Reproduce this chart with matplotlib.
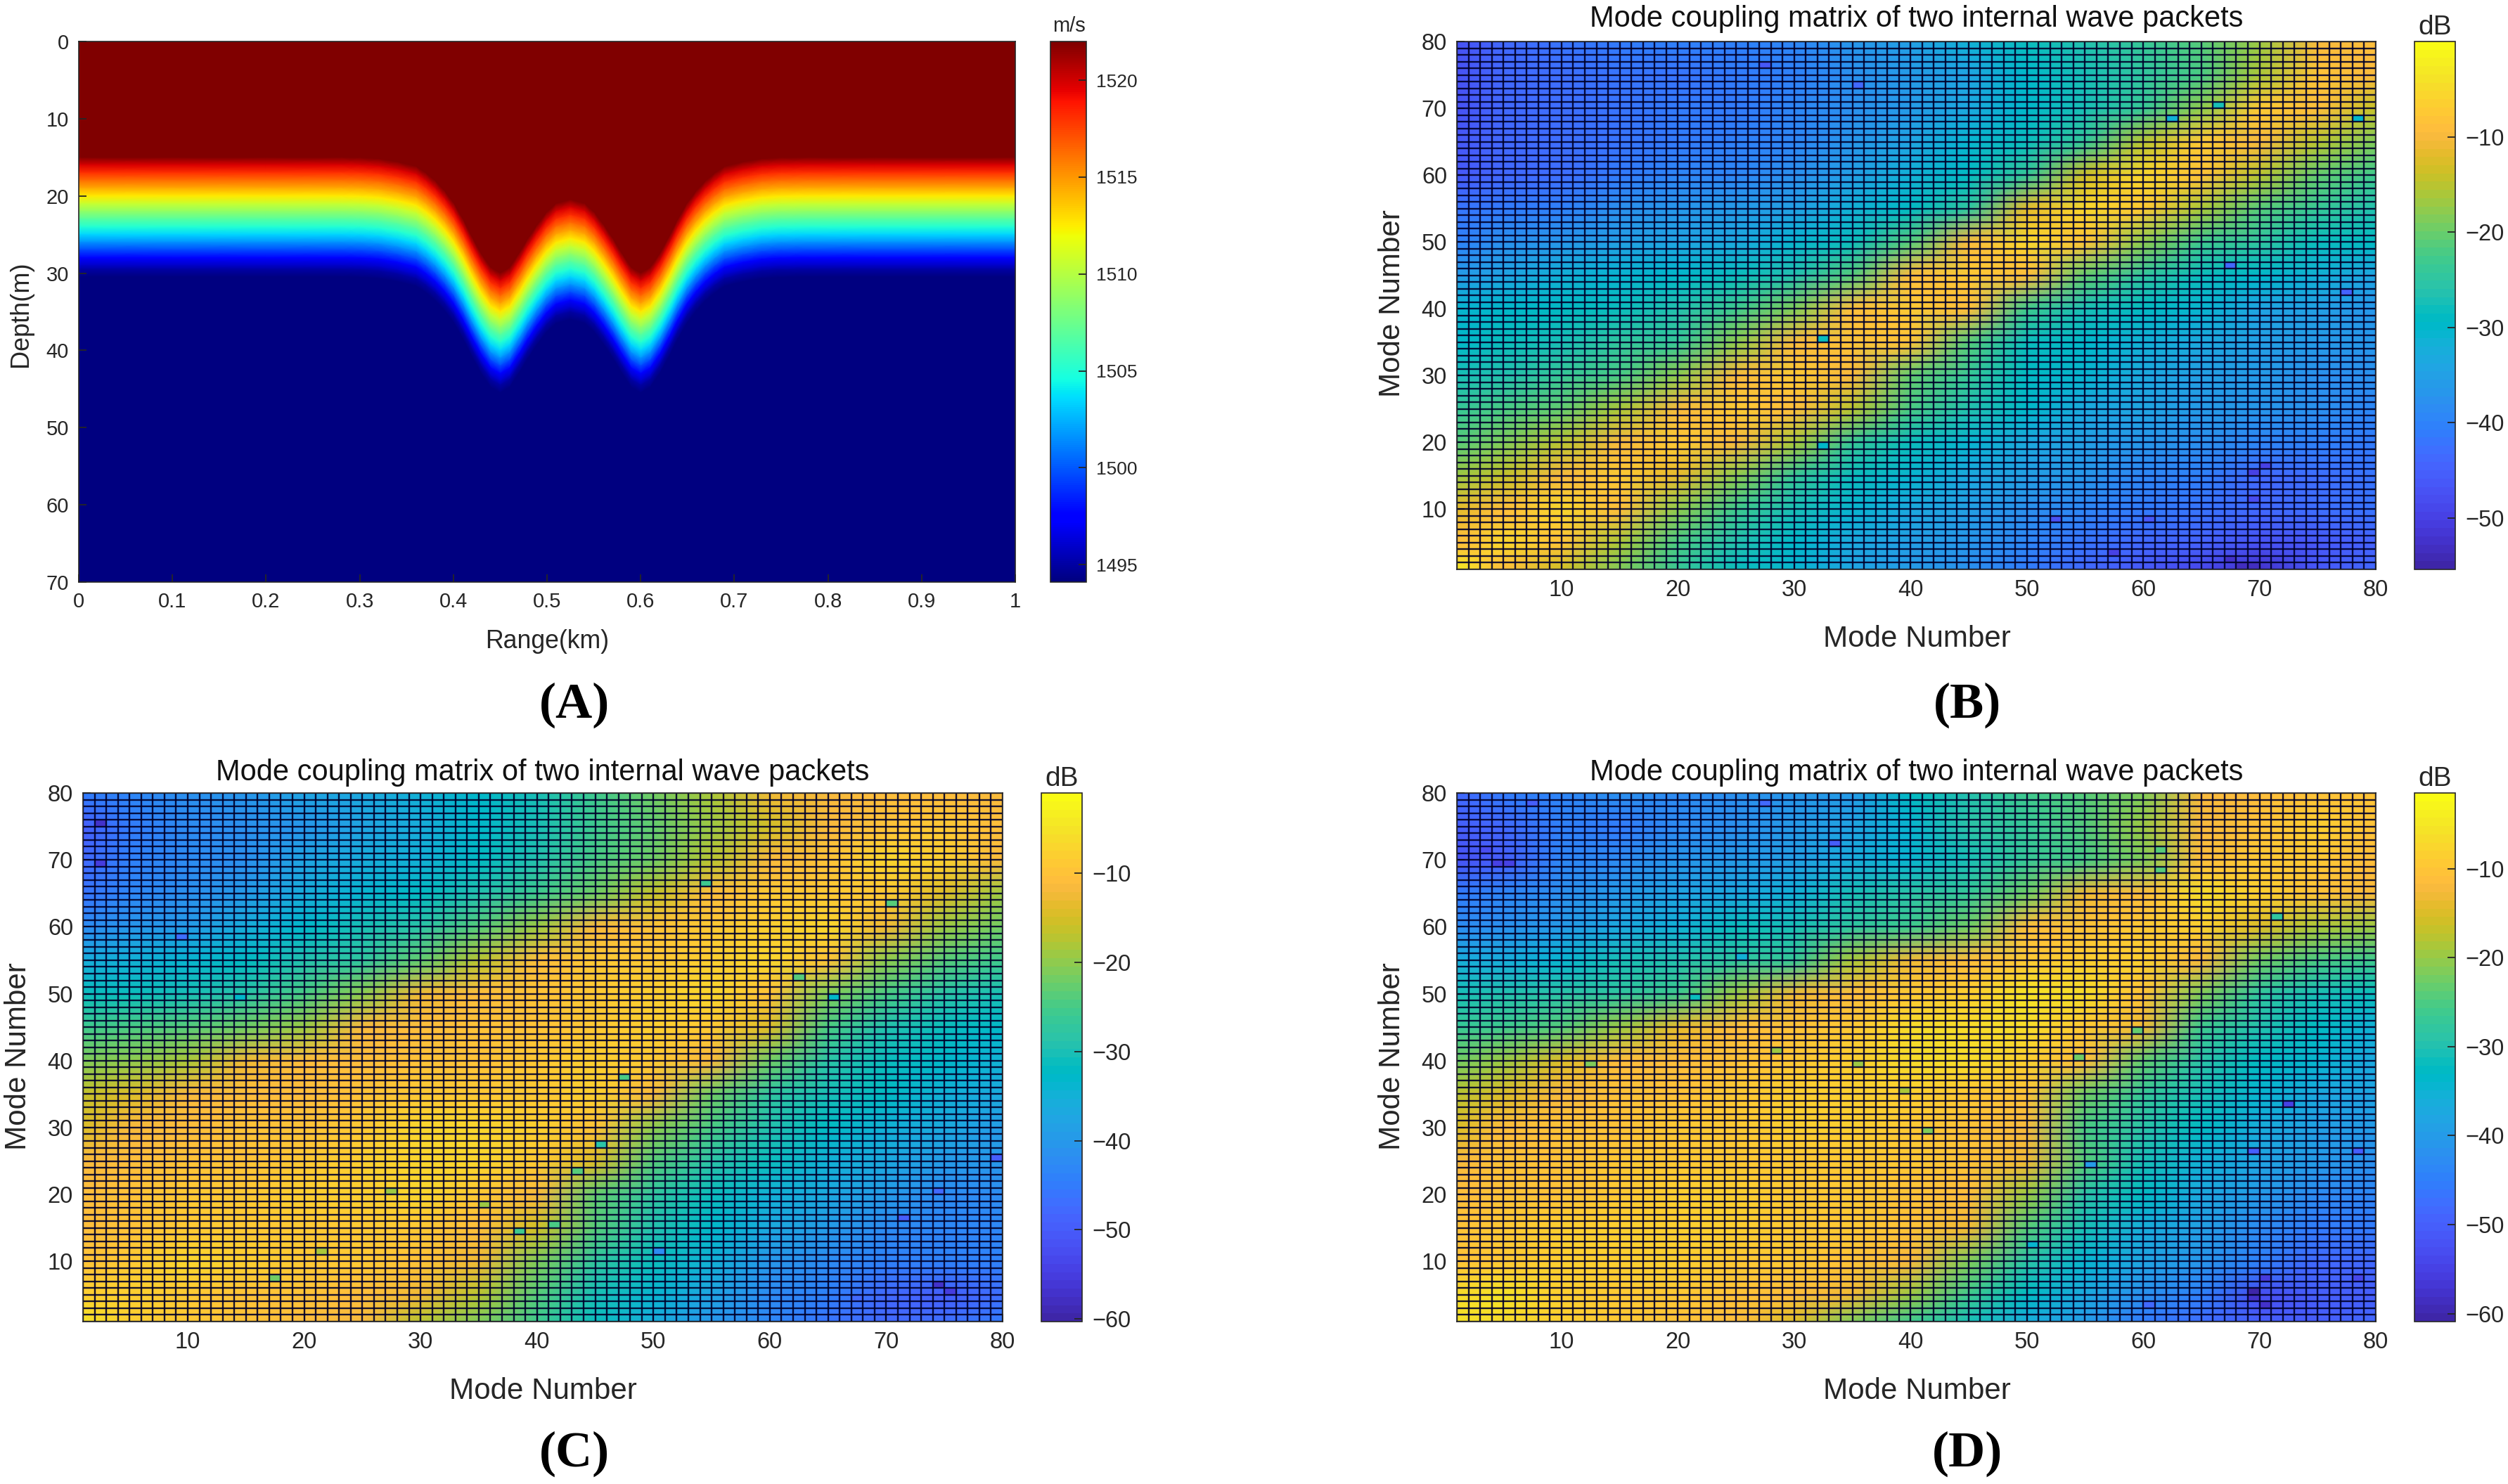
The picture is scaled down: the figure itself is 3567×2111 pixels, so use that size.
import numpy as np
import matplotlib
matplotlib.use("Agg")
import matplotlib.pyplot as plt
from matplotlib.colors import ListedColormap

W, H = 3567, 2111
plt.rcParams['font.family'] = ['Liberation Sans', 'DejaVu Sans']

PARULA = [
 (0.2422,0.1504,0.6603),(0.2504,0.1650,0.7076),(0.2578,0.1818,0.7511),(0.2647,0.1978,0.7952),
 (0.2706,0.2147,0.8364),(0.2751,0.2342,0.8710),(0.2783,0.2559,0.8991),(0.2803,0.2782,0.9221),
 (0.2813,0.3006,0.9414),(0.2810,0.3228,0.9579),(0.2795,0.3447,0.9717),(0.2760,0.3667,0.9829),
 (0.2699,0.3892,0.9906),(0.2602,0.4123,0.9952),(0.2440,0.4358,0.9988),(0.2206,0.4603,0.9973),
 (0.1963,0.4847,0.9892),(0.1834,0.5074,0.9798),(0.1786,0.5289,0.9682),(0.1764,0.5499,0.9520),
 (0.1687,0.5703,0.9359),(0.1540,0.5902,0.9218),(0.1460,0.6091,0.9079),(0.1380,0.6276,0.8973),
 (0.1248,0.6459,0.8883),(0.1113,0.6635,0.8763),(0.0952,0.6798,0.8598),(0.0689,0.6948,0.8394),
 (0.0297,0.7082,0.8163),(0.0036,0.7203,0.7917),(0.0067,0.7312,0.7660),(0.0433,0.7411,0.7394),
 (0.0964,0.7500,0.7120),(0.1408,0.7584,0.6842),(0.1717,0.7670,0.6554),(0.1938,0.7758,0.6251),
 (0.2161,0.7843,0.5923),(0.2470,0.7918,0.5567),(0.2906,0.7973,0.5188),(0.3406,0.8008,0.4789),
 (0.3909,0.8029,0.4354),(0.4456,0.8024,0.3909),(0.5044,0.7993,0.3480),(0.5616,0.7942,0.3045),
 (0.6174,0.7876,0.2612),(0.6720,0.7793,0.2227),(0.7242,0.7698,0.1910),(0.7738,0.7598,0.1646),
 (0.8203,0.7498,0.1535),(0.8634,0.7406,0.1596),(0.9035,0.7330,0.1774),(0.9393,0.7288,0.2100),
 (0.9728,0.7298,0.2394),(0.9956,0.7434,0.2371),(0.9970,0.7659,0.2199),(0.9952,0.7893,0.2028),
 (0.9892,0.8136,0.1885),(0.9786,0.8386,0.1766),(0.9676,0.8639,0.1643),(0.9610,0.8890,0.1537),
 (0.9597,0.9135,0.1423),(0.9628,0.9373,0.1265),(0.9691,0.9606,0.1064),(0.9769,0.9839,0.0805)]
parula = ListedColormap(PARULA, name='parula')

# ---------- Panel A data ----------
range_km = [0,.1,.2,.28,.30,.32,.34,.36,.37,.38,.39,.40,.41,.42,.43,.44,.45,.46,.47,.48,.49,.50,.51,.525,
            .54,.55,.56,.57,.58,.59,.60,.61,.62,.63,.64,.65,.66,.67,.68,.69,.71,.73,.75,.78,.85,1]
displacement_m = [0,0,0,0,.05,.2,.6,1.2,2.0,3.0,4.3,5.9,8.0,10.4,12.6,14.3,15.0,14.3,12.5,10.5,8.7,7.1,6.0,5.5,
                  6.0,7.1,8.7,10.5,12.5,14.3,15.0,14.3,12.6,10.4,8.0,5.9,4.3,3.0,2.0,1.2,.6,.2,.05,0,0,0]
base_depth_m = [-30,15,16,17,18,19,20,21,22,23,24,25,26,27,28,29,29.5,30.5,90]
sound_speed = [1522,1522,1519.8,1518.0,1516.2,1514.4,1512.6,1510.6,1508.8,1506.8,1505.0,1503.4,1501.6,
               1499.6,1497.6,1495.9,1495.0,1494.1,1494.1]

# ---------- Panels B, C, D data (dB, read on a 5-mode lattice) ----------
lattice_x = [1,5,10,15,20,25,30,35,40,45,50,55,60,65,70,75,80]
lattice_y = [80,75,70,65,60,55,50,45,40,35,30,25,20,15,10,5,1]
matrix_b = [
 [-47,-44,-42,-41,-40,-40,-39,-37,-35,-32,-28,-26,-24,-21,-17,-10,-9],
 [-47,-44,-43,-42,-42,-41,-40,-38,-36,-34,-30,-27,-25,-22,-16,-8,-10],
 [-47,-44,-43,-42,-41,-41,-39,-38,-36,-33,-30,-27,-24,-18,-7,-9,-14],
 [-46,-44,-43,-42,-41,-40,-39,-37,-34,-31,-28,-24,-15,-7,-10,-15,-19],
 [-46,-44,-43,-41,-39,-39,-38,-35,-32,-29,-24,-13,-6,-8,-15,-20,-23],
 [-42,-41,-40,-38,-37,-36,-35,-32,-29,-25,-12,-6,-7,-16,-21,-24,-26],
 [-40,-38,-37,-35,-34,-33,-31,-28,-21,-10,-6,-8,-18,-23,-25,-28,-29],
 [-36,-34,-32,-31,-30,-28,-26,-21,-9,-7,-9,-20,-25,-28,-30,-32,-34],
 [-31,-30,-29,-28,-26,-23,-19,-9,-7,-9,-23,-27,-29,-31,-34,-35,-37],
 [-30,-28,-27,-25,-24,-18,-10,-8,-8,-21,-28,-30,-32,-33,-35,-36,-37],
 [-27,-26,-24,-22,-18,-10,-7,-10,-20,-24,-29,-31,-33,-35,-36,-38,-38],
 [-24,-22,-20,-16,-10,-7,-9,-15,-22,-26,-30,-33,-34,-36,-37,-38,-39],
 [-21,-19,-15,-10,-7,-10,-16,-24,-28,-31,-33,-35,-37,-38,-39,-40,-41],
 [-17,-14,-10,-7,-12,-18,-24,-28,-31,-33,-35,-37,-39,-40,-44,-43,-42],
 [-12,-9,-6,-9,-18,-23,-27,-31,-33,-35,-38,-39,-41,-42,-44,-43,-42],
 [-9,-6,-8,-16,-22,-26,-30,-33,-35,-37,-39,-42,-44,-45,-47,-46,-45],
 [-3,-9,-13,-19,-24,-28,-31,-34,-36,-38,-41,-44,-46,-49,-52,-46,-44]]
matrix_c = [
 [-45,-43,-41,-40,-38,-37,-35,-33,-30,-26,-22,-18,-13,-12,-11,-11,-12],
 [-50,-45,-42,-41,-40,-38,-36,-33,-30,-26,-23,-19,-15,-12,-10,-9,-11],
 [-48,-44,-42,-41,-38,-36,-35,-32,-29,-25,-22,-17,-12,-10,-7,-8,-12],
 [-46,-43,-41,-39,-36,-34,-32,-29,-26,-22,-16,-11,-9,-9,-9,-14,-19],
 [-42,-40,-39,-36,-33,-30,-28,-24,-19,-12,-10,-9,-8,-7,-13,-19,-22],
 [-36,-35,-34,-32,-29,-27,-23,-17,-11,-9,-9,-8,-7,-10,-20,-24,-26],
 [-31,-31,-30,-28,-25,-20,-13,-11,-10,-9,-8,-7,-10,-21,-25,-28,-30],
 [-26,-25,-24,-22,-19,-12,-11,-10,-10,-9,-8,-9,-14,-25,-29,-31,-33],
 [-21,-20,-18,-13,-11,-11,-10,-10,-9,-8,-9,-12,-22,-28,-31,-33,-35],
 [-16,-14,-12,-11,-11,-10,-9,-9,-9,-8,-12,-22,-27,-30,-32,-35,-37],
 [-14,-12,-11,-10,-10,-9,-7,-7,-8,-10,-20,-25,-29,-32,-35,-37,-39],
 [-12,-11,-10,-10,-9,-8,-7,-7,-9,-14,-24,-28,-31,-35,-37,-39,-40],
 [-11,-10,-9,-9,-8,-8,-7,-9,-12,-23,-27,-31,-35,-37,-39,-42,-42],
 [-11,-10,-9,-9,-9,-9,-9,-11,-15,-24,-29,-33,-37,-39,-42,-43,-43],
 [-10,-9,-7,-8,-9,-9,-10,-13,-21,-27,-31,-35,-40,-42,-44,-44,-44],
 [-8,-8,-9,-10,-10,-11,-13,-17,-24,-30,-34,-38,-42,-44,-48,-50,-47],
 [-5,-8,-9,-10,-11,-12,-17,-21,-26,-31,-36,-40,-43,-46,-48,-47,-45]]
matrix_d = [
 [-48,-46,-44,-42,-43,-42,-41,-40,-33,-30,-26,-24,-21,-12,-11,-10,-10],
 [-50,-48,-45,-46,-43,-42,-40,-38,-34,-29,-27,-24,-20,-12,-10,-8,-10],
 [-52,-50,-44,-43,-41,-40,-39,-36,-34,-31,-27,-25,-21,-11,-9,-9,-11],
 [-46,-44,-42,-40,-38,-37,-35,-31,-29,-27,-22,-13,-11,-7,-8,-10,-12],
 [-43,-42,-40,-37,-35,-32,-31,-28,-26,-22,-11,-10,-9,-8,-15,-19,-20],
 [-36,-36,-34,-31,-30,-28,-27,-19,-13,-11,-9,-8,-8,-12,-22,-25,-26],
 [-31,-30,-29,-28,-26,-20,-13,-11,-9,-8,-6,-7,-10,-21,-28,-31,-32],
 [-27,-26,-24,-20,-14,-11,-10,-9,-7,-7,-7,-9,-13,-26,-30,-33,-35],
 [-22,-20,-15,-11,-11,-10,-9,-8,-7,-7,-8,-11,-23,-29,-33,-34,-37],
 [-18,-15,-12,-10,-10,-9,-8,-8,-8,-9,-10,-22,-27,-31,-34,-37,-38],
 [-15,-11,-10,-10,-9,-9,-8,-8,-9,-10,-12,-25,-29,-33,-36,-39,-40],
 [-12,-10,-10,-9,-9,-9,-9,-9,-9,-10,-13,-24,-31,-35,-38,-40,-42],
 [-11,-10,-10,-9,-8,-8,-9,-9,-10,-11,-20,-29,-33,-37,-40,-43,-44],
 [-10,-9,-8,-8,-8,-8,-9,-9,-10,-13,-24,-31,-36,-39,-43,-46,-46],
 [-10,-9,-8,-8,-8,-9,-9,-10,-12,-21,-29,-34,-38,-41,-45,-48,-48],
 [-7,-6,-8,-9,-9,-10,-11,-13,-20,-26,-33,-37,-42,-45,-53,-50,-50],
 [-6,-7,-8,-9,-10,-11,-15,-21,-26,-31,-36,-40,-46,-47,-50,-50,-48]]

# isolated cells that stand out from their surroundings: (mode x, mode y, dB)
cells_b = [(62,68,-32),(66,70,-27),(78,68,-30),(32,35,-28),(32,19,-30),(67,2,-52),(68,1,-53),(69,1,-53),(57,3,-50),
           (52,8,-47),(60,8,-46),(69,15,-50),(70,16,-50),(69,11,-48),(27,76,-46),(35,73,-44),(77,42,-45),(67,46,-44)]
cells_c = [(2,75,-57),(2,69,-55),(17,7,-22),(74,6,-57),(75,5,-55),(54,66,-26),(70,63,-24),(62,52,-24),(65,49,-33),
           (79,25,-50),(43,23,-24),(45,27,-28),(50,11,-42),(14,49,-33),(41,15,-25),(38,14,-26),(27,20,-19),
           (35,18,-19),(9,58,-47),(21,11,-18),(47,37,-25),(67,4,-48),(71,16,-50),(74,20,-48)]
cells_d = [(4,69,-55),(5,69,-55),(3,71,-53),(33,72,-50),(7,78,-50),(27,78,-48),(72,33,-55),(69,5,-60),(69,4,-58),
           (70,7,-56),(70,3,-58),(78,7,-54),(71,61,-28),(61,71,-24),(61,68,-24),(25,55,-35),(28,41,-20),(35,39,-20),
           (39,35,-19),(41,29,-21),(54,40,-22),(59,44,-23),(55,24,-40),(69,26,-50),(78,26,-50),(60,3,-48),
           (50,12,-34),(21,49,-32),(12,39,-21)]

mode_ticks = [10,20,30,40,50,60,70,80]
range_ticks = [0,.1,.2,.3,.4,.5,.6,.7,.8,.9,1]
range_tick_labels = ['0','0.1','0.2','0.3','0.4','0.5','0.6','0.7','0.8','0.9','1']
depth_ticks = [0,10,20,30,40,50,60,70]
speed_ticks = [1495,1500,1505,1510,1515,1520]
db_ticks_b = [-50,-40,-30,-20,-10]
db_ticks_cd = [-60,-50,-40,-30,-20,-10]

TITLE = 'Mode coupling matrix of two internal wave packets'
TEXTC = '#262626'

fig = plt.figure(figsize=(W/100, H/100), dpi=100, facecolor='white')

def axpx(x0, y0, x1, y1):
    return fig.add_axes([x0/W, 1-y1/H, (x1-x0)/W, (y1-y0)/H])

def txt(x, y, s, **kw):
    fig.text(x/W, 1-y/H, s, ha=kw.pop('ha','center'), va=kw.pop('va','center'), **kw)

def style_cbar(cb, ticks, fs):
    cb.set_ticks(ticks)
    cb.ax.tick_params(direction='in', length=8, width=1.3, labelsize=fs, pad=10, color='#262626', labelcolor=TEXTC)
    cb.ax.minorticks_off()
    cb.outline.set_linewidth(1.2)
    cb.outline.set_edgecolor('#262626')

def style_ax(ax, fs):
    ax.tick_params(direction='in', length=8, width=1.3, labelsize=fs, pad=10, color='#262626',
                   labelcolor=TEXTC, top=False, right=False)
    for s in ax.spines.values():
        s.set_linewidth(1.2)
        s.set_edgecolor('#262626')

# Panel A
axA = axpx(112, 59, 1444, 828)
r = np.array(range_km); d = np.array(displacement_m); z = np.array(base_depth_m)
X = np.repeat(r[None, :], len(z), axis=0)
Z = z[:, None] + d[None, :]
C = np.repeat(np.array(sound_speed)[:, None], len(r), axis=1)
mA = axA.pcolormesh(X, Z, C, shading='gouraud', cmap='jet', vmin=1494.1, vmax=1522.0)
axA.set_xlim(0, 1); axA.set_ylim(70, 0)
axA.set_xticks(range_ticks, range_tick_labels); axA.set_yticks(depth_ticks)
style_ax(axA, 21)
caxA = axpx(1494, 59, 1545, 828)
cbA = fig.colorbar(mA, cax=caxA)
style_cbar(cbA, speed_ticks, 19)
txt(778, 913, 'Range(km)', fontsize=25.7, color=TEXTC)
txt(30, 447, 'Depth(m)', fontsize=26, color=TEXTC, rotation=90)
txt(1520, 37, 'm/s', fontsize=21, color=TEXTC)

# Panels B, C, D
def matrix_panel(box, cbox, data, cells, vmin, vmax, dbticks, titlex, xl, yl, yt, ylx, dby, dbx):
    ax = axpx(*box)
    xx, yy = np.meshgrid(lattice_x, lattice_y)
    m = ax.pcolormesh(xx, yy, np.array(data, float), shading='gouraud', cmap=parula, vmin=vmin, vmax=vmax)
    modes = np.arange(1, 81)
    single = np.ma.masked_all((79, 79))
    for cx, cy, v in cells:
        single[cy-1, cx-1] = v
    ax.pcolormesh(modes, modes, single, shading='flat', cmap=parula, vmin=vmin, vmax=vmax)
    ax.vlines(modes, 1, 80, colors='#00002a', linewidth=1.7, alpha=.9)
    ax.hlines(modes, 1, 80, colors='#00002a', linewidth=1.7, alpha=.9)
    ax.set_xlim(1, 80); ax.set_ylim(1, 80)
    ax.set_xticks(mode_ticks); ax.set_yticks(mode_ticks)
    style_ax(ax, 23.5)
    cax = axpx(*cbox)
    cb = fig.colorbar(m, cax=cax)
    style_cbar(cb, dbticks, 23.5)
    txt(titlex, yt, TITLE, fontsize=30, color='#111111')
    txt(titlex, xl, 'Mode Number', fontsize=30.3, color=TEXTC)
    txt(ylx, yl, 'Mode Number', fontsize=30.3, color=TEXTC, rotation=90)
    txt(dbx, dby, 'dB', fontsize=28, color=TEXTC)

matrix_panel((2072,59,3379,810),(3434,59,3492,810),matrix_b,cells_b,-55.4,0.0,db_ticks_b,2726,909,432,27,1980,39,3463)
matrix_panel((118,1128,1426,1880),(1481,1128,1539,1880),matrix_c,cells_c,-60.3,-1.0,db_ticks_cd,772,1979,1503,1099,26,1108,1510)
matrix_panel((2072,1128,3379,1880),(3434,1128,3492,1880),matrix_d,cells_d,-60.9,-1.5,db_ticks_cd,2726,1979,1503,1099,1980,1108,3463)

# Panel letters
for x, y, s in [(817,1003,'(A)'),(2798,1003,'(B)'),(817,2068,'(C)'),(2798,2068,'(D)')]:
    txt(x, y, s, fontsize=52, fontweight='bold', family='Liberation Serif', color='black')

fig.savefig('out.png', dpi=100)
